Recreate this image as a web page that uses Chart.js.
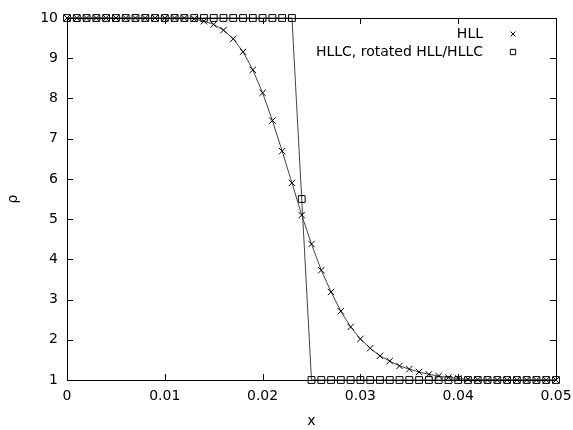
<!DOCTYPE html>
<html>
<head>
<meta charset="utf-8">
<script src="https://cdn.jsdelivr.net/npm/chart.js@4"></script>
<style>
  html, body { margin: 0; padding: 0; background: #fff; }
  #wrap { width: 573px; height: 430px; }
</style>
</head>
<body>
<div id="wrap"><canvas id="rho"></canvas></div>
<script>
// x positions of the cells, one every 0.001
var xs = []
for (var i = 0; i <= 50; i++) xs.push(+(i * 0.001).toFixed(3))

var hll = [10, 10, 10, 10, 10, 10, 10, 10, 10, 10,
           10, 10, 10, 9.98, 9.92, 9.84, 9.7, 9.48, 9.16, 8.71,
           8.14, 7.45, 6.69, 5.9, 5.1, 4.38, 3.73, 3.19, 2.71, 2.32,
           2.02, 1.79, 1.6, 1.47, 1.35, 1.27, 1.2, 1.14, 1.1, 1.06,
           1.04, 1.02, 1.01, 1.0, 1.0, 1.0, 1.0, 1.0, 1.0, 1.0, 1.0]

var hllc = [10, 10, 10, 10, 10, 10, 10, 10, 10, 10,
            10, 10, 10, 10, 10, 10, 10, 10, 10, 10,
            10, 10, 10, 10, 5.5, 1, 1, 1, 1, 1,
            1, 1, 1, 1, 1, 1, 1, 1, 1, 1,
            1, 1, 1, 1, 1, 1, 1, 1, 1, 1, 1]

var xTicks = [0, 0.01, 0.02, 0.03, 0.04, 0.05]
var xTickLabels = ["0", "0.01", "0.02", "0.03", "0.04", "0.05"]
var yTicks = [1, 2, 3, 4, 5, 6, 7, 8, 9, 10]

var seriesNames = ["HLL", "HLLC, rotated HLL/HLLC"]

var font = "DejaVu Sans"

// gnuplot style frame, inward ticks on all four sides, and the legend
var gnuFrame = {
  id: "gnuFrame",
  afterDraw(chart) {
    var ctx = chart.ctx, a = chart.chartArea
    var sx = chart.scales.x, sy = chart.scales.y
    ctx.save()
    ctx.strokeStyle = "#000"
    ctx.lineWidth = 1
    ctx.beginPath()
    ctx.rect(a.left + 0.5, a.top + 0.5, a.right - a.left, a.bottom - a.top)
    xTicks.forEach(v => {
      var p = Math.round(sx.getPixelForValue(v)) + 0.5
      ctx.moveTo(p, a.bottom); ctx.lineTo(p, a.bottom - 6)
      ctx.moveTo(p, a.top); ctx.lineTo(p, a.top + 6)
    })
    yTicks.forEach(v => {
      var p = Math.round(sy.getPixelForValue(v)) + 0.5
      ctx.moveTo(a.left, p); ctx.lineTo(a.left + 6, p)
      ctx.moveTo(a.right, p); ctx.lineTo(a.right - 6, p)
    })
    ctx.stroke()

    // legend
    ctx.font = "14px '" + font + "'"
    ctx.textAlign = "right"
    ctx.textBaseline = "middle"
    chart.data.datasets.forEach((ds, i) => {
      var y = 34 + i * 18
      ctx.fillStyle = "#000"
      ctx.fillText(seriesNames[i], 483, y)
      ctx.fillStyle = "rgba(0,0,0,0)"
      ctx.strokeStyle = "#000"
      Chart.helpers.drawPoint(ctx, {
        pointStyle: ds.pointStyle, radius: ds.pointRadius - 1, rotation: 0, borderWidth: 1
      }, 513, y)
    })
    ctx.restore()
  }
}

new Chart("rho", {
  type: "line",
  data: {
    labels: xs,
    datasets: [{
      label: seriesNames[0],
      data: xs.map((x, i) => ({x: x, y: hll[i]})),
      borderColor: "#444",
      borderWidth: 1,
      pointStyle: "crossRot",
      pointRadius: 4.5,
      pointBorderColor: "#000",
      pointBorderWidth: 1,
      pointBackgroundColor: "rgba(0,0,0,0)",
      clip: false
    }, {
      label: seriesNames[1],
      data: xs.map((x, i) => ({x: x, y: hllc[i]})),
      borderColor: "#444",
      borderWidth: 1,
      pointStyle: "rect",
      pointRadius: 4.8,
      pointBorderColor: "#000",
      pointBorderWidth: 1,
      pointBackgroundColor: "rgba(0,0,0,0)",
      clip: false
    }]
  },
  options: {
    responsive: true,
    maintainAspectRatio: false,
    animation: false,
    layout: {padding: {left: 0, right: 17, top: 18, bottom: 0}},
    plugins: {legend: {display: false}, tooltip: {enabled: false}},
    scales: {
      x: {
        type: "linear",
        min: 0, max: 0.05,
        afterBuildTicks: s => { s.ticks = xTicks.map(v => ({value: v})) },
        afterFit: s => { s.height = 50; s.paddingLeft = 0; s.paddingRight = 0 },
        grid: {display: false, drawTicks: false},
        border: {display: false},
        ticks: {
          color: "#000", padding: 8, maxRotation: 0,
          font: {family: font, size: 14},
          callback: (v, i) => xTickLabels[i]
        },
        title: {display: true, text: "x", color: "#000", font: {family: font, size: 14}, padding: {top: 2, bottom: 0}}
      },
      y: {
        min: 1, max: 10,
        afterBuildTicks: s => { s.ticks = yTicks.map(v => ({value: v})) },
        afterFit: s => { s.width = 67; s.paddingTop = 0; s.paddingBottom = 0 },
        grid: {display: false, drawTicks: false},
        border: {display: false},
        ticks: {color: "#000", padding: 9, font: {family: font, size: 14}},
        title: {display: true, text: "ρ", color: "#000", font: {family: font, size: 14}, padding: {top: 5, bottom: 0}}
      }
    }
  },
  plugins: [gnuFrame]
})
</script>
</body>
</html>
